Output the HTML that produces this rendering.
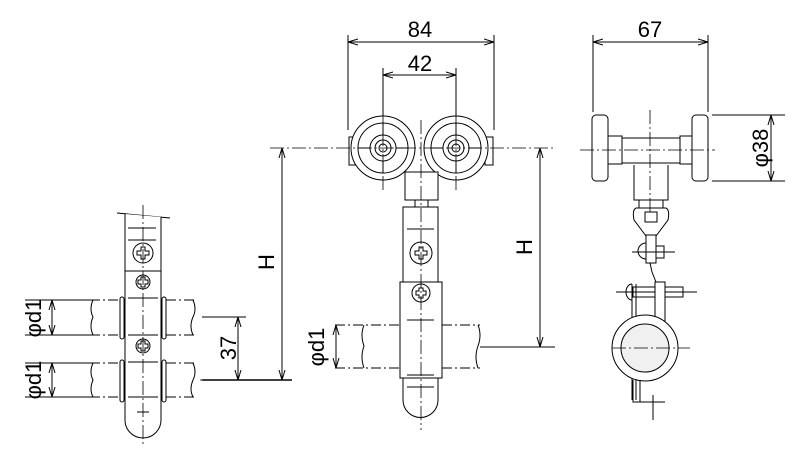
<!DOCTYPE html>
<html><head><style>body{margin:0;background:#fff}svg{display:block}text{font-family:"Liberation Sans",sans-serif;font-size:22px;fill:#000}</style></head><body>
<svg width="800" height="460" viewBox="0 0 800 460" fill="none" stroke="#000" stroke-width="1">
<defs><marker id="a" viewBox="0 0 10 10" refX="10" refY="5" markerWidth="10" markerHeight="10" orient="auto-start-reverse" markerUnits="userSpaceOnUse"><path d="M0,2 L10,5 L0,8" fill="none" stroke="#000"/></marker></defs>
<!-- dims middle -->
<line x1="348" y1="35" x2="348" y2="130"/><line x1="494" y1="35" x2="494" y2="130"/>
<line x1="383" y1="68" x2="383" y2="118"/><line x1="456" y1="68" x2="456" y2="118"/>
<line x1="348" y1="42" x2="494" y2="42" marker-start="url(#a)" marker-end="url(#a)"/>
<line x1="383" y1="75" x2="456" y2="75" marker-start="url(#a)" marker-end="url(#a)"/>
<text x="420" y="37" text-anchor="middle" stroke="none">84</text>
<text x="420" y="71" text-anchor="middle" stroke="none">42</text>
<line x1="282" y1="148" x2="282" y2="380" marker-start="url(#a)" marker-end="url(#a)"/>
<line x1="540" y1="148" x2="540" y2="347" marker-start="url(#a)" marker-end="url(#a)"/>
<line x1="480" y1="347" x2="555" y2="347"/>
<text transform="translate(274,262) rotate(-90)" text-anchor="middle" stroke="none">H</text>
<text transform="translate(532,247) rotate(-90)" text-anchor="middle" stroke="none">H</text>
<!-- wheels -->
<rect x="349" y="137" width="8" height="28"/><rect x="485" y="137" width="8" height="28"/>
<circle cx="383" cy="148" r="32" fill="#fff"/><circle cx="383" cy="148" r="25"/><circle cx="383" cy="148" r="13"/><circle cx="383" cy="148" r="8"/><circle cx="383" cy="148" r="4"/>
<circle cx="456" cy="148" r="32" fill="#fff"/><circle cx="456" cy="148" r="25"/><circle cx="456" cy="148" r="13"/><circle cx="456" cy="148" r="8"/><circle cx="456" cy="148" r="4"/>
<path d="M383,123V135M383,161V173M358,148H370M396,148H408M456,123V135M456,161V173M431,148H443M469,148H481"/>
<rect x="405" y="172" width="33" height="28" fill="#fff"/><rect x="415" y="200" width="13" height="7"/>
<path d="M403,207 H438 V400 A17.5,17.5 0 0 1 403,400 Z" fill="#fff"/>
<line x1="407" y1="229" x2="434" y2="229"/><line x1="407" y1="387" x2="434" y2="387"/>
<circle cx="421" cy="253" r="11"/><path d="M419,247h4v4h4v4h-4v4h-4v-4h-4v-4h4z"/>
<rect x="400" y="282" width="42" height="96" fill="#fff"/>
<circle cx="421" cy="293" r="9"/><path d="M419,288h4v3h3v4h-3v3h-4v-3h-3v-4h3z"/>
<line x1="407" y1="320" x2="434" y2="320"/><line x1="407" y1="375" x2="434" y2="375"/>
<path d="M335,325 H400 M335,368 H400 M442,325 H480 M442,368 H480" stroke-dasharray="10,3,2,3"/>
<path d="M364,325 q-4,10 0,21 q-4,11 0,22 M478,325 q4,10 0,21 q-4,11 0,22"/>
<line x1="336" y1="325" x2="336" y2="368" marker-start="url(#a)" marker-end="url(#a)"/>
<text transform="translate(324,347) rotate(-90)" text-anchor="middle" stroke="none">φd1</text>
<!-- left view -->
<line x1="117" y1="213" x2="170" y2="218"/>
<path d="M125,214 V420 A18,18 0 0 0 161,420 V217" fill="#fff"/>
<line x1="128" y1="228" x2="156" y2="228"/><line x1="128" y1="240" x2="156" y2="240"/>
<line x1="125" y1="271" x2="161" y2="271"/>
<circle cx="143" cy="253" r="10"/><path d="M141,247h4v4h4v4h-4v4h-4v-4h-4v-4h4z"/>
<circle cx="143" cy="282" r="7"/><path d="M141,277h4v3h3v4h-3v3h-4v-3h-3v-4h3z"/>
<circle cx="143" cy="346" r="7"/><path d="M141,341h4v3h3v4h-3v3h-4v-3h-3v-4h3z"/>
<path d="M128,298H158M128,335H158M128,362H158M128,397H158M137,412H149"/>
<g stroke-dasharray="10,3,2,3"><path d="M90,300H120M166,300H195M90,335H120M166,335H195M90,363H120M166,363H195M90,397H120M166,397H195"/></g>
<path d="M93,300q-4,9 0,17q-4,9 0,18M193,300q4,9 0,17q-4,9 0,18M93,363q-4,9 0,17q-4,9 0,17M193,363q4,9 0,17q-4,9 0,17"/>
<rect x="120" y="297" width="4" height="42" rx="2" fill="#fff"/><rect x="162" y="297" width="4" height="42" rx="2" fill="#fff"/>
<rect x="120" y="360" width="4" height="42" rx="2" fill="#fff"/><rect x="162" y="360" width="4" height="42" rx="2" fill="#fff"/>
<path d="M25,300H90M25,335H90M25,363H90M25,397H90"/>
<line x1="52" y1="300" x2="52" y2="335" marker-start="url(#a)" marker-end="url(#a)"/>
<line x1="52" y1="363" x2="52" y2="397" marker-start="url(#a)" marker-end="url(#a)"/>
<text transform="translate(41,318) rotate(-90)" text-anchor="middle" stroke="none">φd1</text>
<text transform="translate(41,380) rotate(-90)" text-anchor="middle" stroke="none">φd1</text>
<line x1="202" y1="317" x2="246" y2="317"/><line x1="202" y1="380" x2="292" y2="380" stroke-width="1.5"/>
<line x1="238" y1="317" x2="238" y2="380" marker-start="url(#a)" marker-end="url(#a)"/>
<text transform="translate(236,348) rotate(-90)" text-anchor="middle" stroke="none">37</text>
<!-- right view -->
<line x1="593" y1="35" x2="593" y2="112"/><line x1="708" y1="35" x2="708" y2="112"/>
<line x1="593" y1="42" x2="708" y2="42" marker-start="url(#a)" marker-end="url(#a)"/>
<text x="650" y="37" text-anchor="middle" stroke="none">67</text>
<line x1="712" y1="115" x2="785" y2="115"/><line x1="712" y1="181" x2="785" y2="181"/>
<line x1="771" y1="115" x2="771" y2="181" marker-start="url(#a)" marker-end="url(#a)"/>
<text transform="translate(768,148) rotate(-90)" text-anchor="middle" stroke="none">φ38</text>
<rect x="592" y="115" width="16" height="66" rx="4"/><rect x="692" y="115" width="16" height="66" rx="4"/>
<rect x="608" y="136" width="14" height="28"/><rect x="680" y="136" width="12" height="28"/>
<path d="M622,138H680V163H622Z"/>
<path d="M634,165V200H668V165"/><rect x="639" y="200" width="24" height="8"/>
<path d="M636,208 Q632,210 634,220 L646,236 L646,262 M666,208 Q670,210 668,220 L656,236 L656,262 M636,208H666"/>
<rect x="645" y="212" width="12" height="10"/>
<rect x="646" y="235" width="10" height="28" fill="#fff"/>
<path d="M646,243 a8,8 0 0 0 0,16 z"/><rect x="656" y="246" width="8" height="12"/>
<line x1="632" y1="252" x2="675" y2="252"/>
<path d="M650,263 L652,272 L656,282"/>
<line x1="616" y1="292" x2="697" y2="292"/>
<rect x="633" y="287" width="50" height="10" fill="none"/>
<path d="M632,284 a6,8 0 0 0 0,16"/>
<line x1="632" y1="284" x2="632" y2="400"/><line x1="636" y1="284" x2="636" y2="400"/>
<rect x="655" y="282" width="10" height="40" fill="#fff"/>
<circle cx="645" cy="348" r="33" fill="#fff"/><circle cx="645" cy="348" r="24" fill="#f0f0f0"/>
<path d="M633,380V402H665M640,380V402M653,395V420" />
<g stroke-dasharray="14,3,2,3" stroke-width="0.8">
<line x1="270" y1="148" x2="555" y2="148"/><line x1="421" y1="120" x2="421" y2="430"/>
<line x1="383" y1="110" x2="383" y2="190"/><line x1="456" y1="110" x2="456" y2="190"/>
<line x1="143" y1="205" x2="143" y2="445"/>
<line x1="650" y1="110" x2="650" y2="215"/><line x1="580" y1="150" x2="715" y2="150"/>
<line x1="612" y1="348" x2="690" y2="348"/><line x1="200" y1="380" x2="202" y2="380"/>
</g>
</svg>
</body></html>
